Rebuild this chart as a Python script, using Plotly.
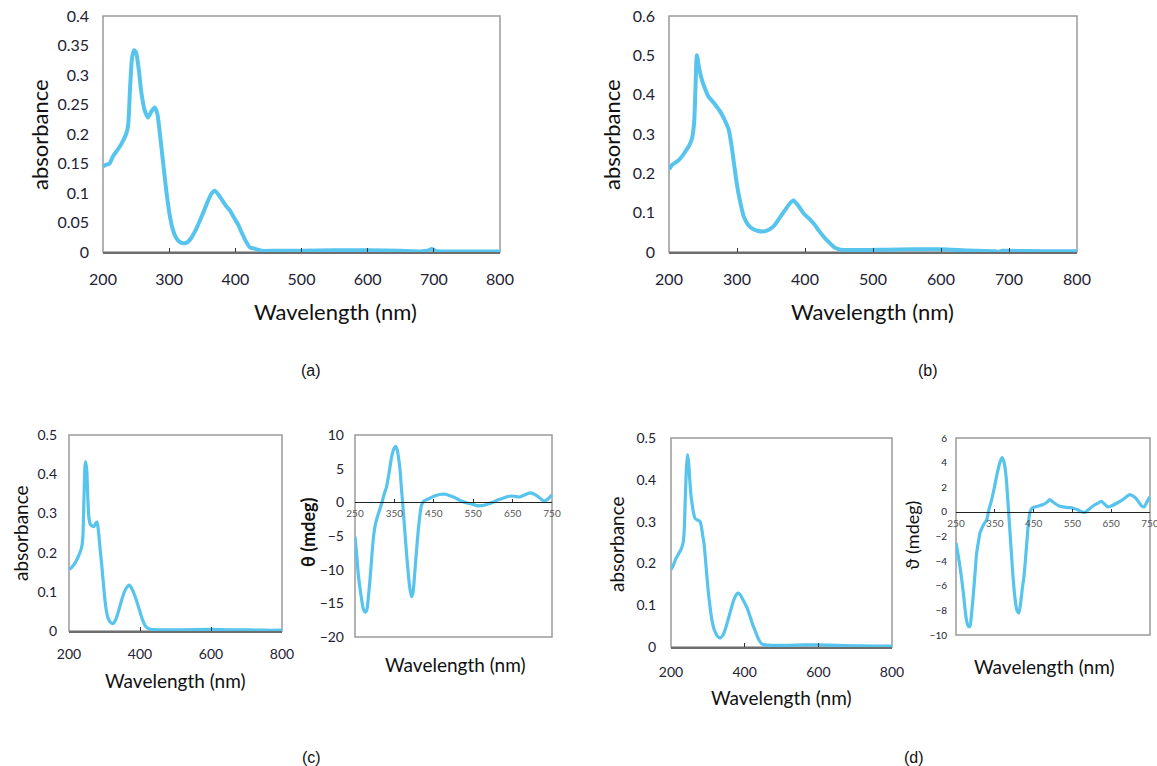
import plotly.graph_objects as go

# ---------------- data ----------------
wl_a = [200,205,210,215,220,225,230,235,238,241,244,247,250,254,258,263,268,273,278,282,286,290,295,300,305,310,316,322,328,334,340,346,352,358,364,369,374,380,386,392,398,404,410,416,422,428,434,440,460,500,550,600,650,680,690,697,703,720,760,800]
abs_a = [0.145,0.148,0.15,0.162,0.17,0.178,0.188,0.2,0.215,0.28,0.33,0.342,0.338,0.31,0.27,0.24,0.228,0.238,0.245,0.235,0.2,0.16,0.11,0.068,0.04,0.025,0.017,0.015,0.017,0.025,0.037,0.052,0.068,0.085,0.099,0.104,0.098,0.088,0.078,0.07,0.058,0.047,0.032,0.018,0.008,0.006,0.004,0.002,0.002,0.002,0.003,0.003,0.002,0.001,0.002,0.005,0.002,0.001,0.001,0.001]

wl_b = [200,205,210,215,220,225,230,234,237,239,241,244,248,253,258,264,270,276,282,288,292,296,300,305,310,316,322,330,338,346,354,362,370,377,383,390,398,406,414,420,426,432,438,445,452,470,520,560,600,640,680,684,690,700,750,800]
abs_b = [0.21,0.222,0.228,0.235,0.245,0.258,0.272,0.29,0.33,0.42,0.5,0.47,0.44,0.415,0.395,0.383,0.37,0.355,0.335,0.31,0.27,0.22,0.17,0.125,0.09,0.07,0.06,0.054,0.052,0.056,0.066,0.085,0.105,0.122,0.131,0.118,0.098,0.085,0.07,0.055,0.042,0.03,0.02,0.01,0.006,0.005,0.006,0.007,0.007,0.004,0.002,0.0,0.003,0.003,0.002,0.002]

wl_c = [200,205,210,216,222,230,236,239,242,245,247,250,253,256,260,265,270,275,279,283,287,292,296,300,305,310,317,324,332,340,348,356,364,370,376,382,390,398,404,410,416,422,430,460,520,600,650,700,750,800]
abs_c = [0.158,0.16,0.165,0.172,0.182,0.198,0.215,0.24,0.33,0.42,0.432,0.41,0.34,0.29,0.272,0.268,0.266,0.275,0.278,0.255,0.215,0.17,0.13,0.09,0.053,0.033,0.022,0.019,0.03,0.052,0.078,0.1,0.113,0.117,0.11,0.098,0.078,0.055,0.037,0.022,0.012,0.007,0.004,0.003,0.003,0.004,0.003,0.003,0.002,0.002]

wl_c_cd = [250,254,258,262,267,271,276,280,284,288,292,297,302,307,312,318,324,330,336,343,349,353,357,360,364,368,373,378,383,388,393,397,401,405,410,415,419,425,432,440,450,460,470,480,490,500,510,520,534,550,560,570,580,590,600,610,625,640,655,669,680,695,705,716,724,730,738,745,750]
cd_c = [-5.1,-7.6,-10.5,-12.5,-14.5,-15.8,-16.3,-16.0,-14,-11.5,-8.5,-5.1,-3.2,-2.1,-1.2,-0.1,1.2,2.3,4.2,6.8,8.0,8.3,7.8,6.8,5.0,2.0,-1.6,-5.5,-9.1,-12.2,-14.0,-13.5,-11.0,-8.0,-4.5,-1.8,-0.4,0.2,0.4,0.6,0.9,1.1,1.2,1.2,1.0,0.8,0.5,0.2,-0.1,-0.3,-0.5,-0.5,-0.4,-0.2,0.0,0.3,0.6,0.9,0.9,0.8,1.1,1.4,1.2,0.8,0.4,0.2,0.4,0.8,1.1]

wl_d = [200,206,212,220,228,233,236,239,242,245,248,251,254,257,261,265,269,274,279,283,287,290,295,299,304,311,318,326,334,342,350,358,366,374,381,388,396,406,414,422,428,434,440,446,454,480,520,560,600,650,700,750,800]
abs_d = [0.185,0.195,0.209,0.222,0.235,0.25,0.28,0.36,0.43,0.46,0.44,0.4,0.365,0.344,0.322,0.308,0.305,0.303,0.3,0.285,0.262,0.245,0.195,0.153,0.11,0.065,0.04,0.026,0.022,0.03,0.05,0.075,0.1,0.12,0.129,0.125,0.112,0.095,0.075,0.053,0.04,0.026,0.015,0.008,0.005,0.004,0.004,0.005,0.005,0.004,0.003,0.002,0.002]

wl_d_cd = [250,255,259,264,269,273,277,282,286,290,295,299,303,308,312,320,329,335,342,349,356,363,369,374,379,383,387,392,397,402,407,412,417,421,425,430,435,440,446,453,465,475,485,492,500,509,518,526,540,552,565,575,582,592,604,615,625,634,642,652,664,680,698,710,720,728,735,742,750]
cd_d = [-2.5,-3.4,-4.2,-5.3,-6.6,-7.8,-8.8,-9.3,-9.3,-8.3,-6.6,-5.0,-3.4,-2.4,-1.7,-1.1,-0.65,0.2,1.0,2.0,3.1,4.0,4.4,4.0,2.9,1.2,-0.65,-3.0,-5.3,-7.0,-8.0,-8.2,-7.3,-6.2,-5.3,-3.5,-1.5,-0.1,0.3,0.4,0.5,0.6,0.8,1.0,0.8,0.6,0.45,0.4,0.35,0.3,0.15,0.0,-0.05,0.2,0.5,0.7,0.85,0.6,0.4,0.5,0.7,1.0,1.4,1.2,0.85,0.5,0.4,0.8,1.25]

# ---------------- layout helpers ----------------
# the page's body margin is removed (post_script), so positions are window pixels
W, H = 1157, 766
LINE = "#57c4ee"
FRAME = "#9a9a9a"
BOTTOM = "#6e6e6e"
TICKC = "#222233"
TF = "Lato"


def dx(l, r):
    return [l / W, r / W]


def dy(t, b):
    return [1 - b / H, 1 - t / H]


fig = go.Figure()

panels = [
    (1, wl_a, abs_a, dx(103, 500), dy(16, 252), 4),
    (2, wl_b, abs_b, dx(669, 1077), dy(16, 252), 4),
    (3, wl_c, abs_c, dx(69, 282), dy(435, 631), 3.2),
    (4, wl_c_cd, cd_c, dx(355, 552), dy(435, 637), 3.2),
    (5, wl_d, abs_d, dx(671, 892), dy(438, 647), 3.2),
    (6, wl_d_cd, cd_d, dx(956, 1150), dy(438, 635), 3.2),
]

for idx, xs, ys, xd, yd, lw in panels:
    s = "" if idx == 1 else str(idx)
    fig.add_trace(go.Scatter(x=xs, y=ys, mode="lines",
                             line=dict(color=LINE, width=lw, shape="spline", smoothing=0.6),
                             xaxis="x" + s, yaxis="y" + s, showlegend=False, hoverinfo="skip"))

lay = dict(width=W, height=H, margin=dict(l=0, r=0, t=0, b=0, autoexpand=False),
           paper_bgcolor="white", plot_bgcolor="white", showlegend=False)

uv_specs = {
    1: dict(xdt=100, yr=[0, 0.4], ydt=0.05, fs=16, ystand=13, xstand=12),
    2: dict(xdt=100, yr=[0, 0.6], ydt=0.1, fs=16, ystand=13, xstand=12),
    3: dict(xdt=200, yr=[0, 0.5], ydt=0.1, fs=14, ystand=11, xstand=9),
    5: dict(xdt=200, yr=[0, 0.5], ydt=0.1, fs=14, ystand=14, xstand=11),
}
shapes = []
for idx, xs, ys, xd, yd, lw in panels:
    s = "" if idx == 1 else str(idx)
    if idx in uv_specs:
        sp = uv_specs[idx]
        lay["xaxis" + s] = dict(domain=xd, anchor="y" + s, range=[200, 800], dtick=sp["xdt"], tick0=200,
                                showline=True, mirror=False, linecolor=BOTTOM, linewidth=1.5, showgrid=False,
                                zeroline=False, ticks="inside", ticklen=4, tickcolor="#333", automargin=False,
                                ticklabelstandoff=sp["xstand"], ticklabeloverflow="allow",
                                tickfont=dict(family=TF, size=sp["fs"], color=TICKC))
        lay["yaxis" + s] = dict(domain=yd, anchor="x" + s, range=sp["yr"], dtick=sp["ydt"], tick0=0,
                                showline=False, showgrid=False, automargin=False,
                                zeroline=False, ticks="", ticklabelstandoff=sp["ystand"],
                                ticklabeloverflow="allow",
                                tickfont=dict(family=TF, size=sp["fs"], color=TICKC))
        shapes.append(dict(type="rect", xref="x" + s + " domain", yref="y" + s + " domain",
                           x0=0, x1=1, y0=0, y1=1, line=dict(color=FRAME, width=1.5), layer="below"))

cd_specs = {
    4: dict(yr=[-20, 10], ydt=5, yfs=14, xfs=10, ystand=10),
    6: dict(yr=[-10, 6], ydt=2, yfs=10, xfs=10, ystand=8),
}
for idx, xs, ys, xd, yd, lw in panels:
    if idx not in cd_specs:
        continue
    s = str(idx)
    sp = cd_specs[idx]
    y0, y1 = sp["yr"]
    pos0 = yd[0] + (0 - y0) / (y1 - y0) * (yd[1] - yd[0])
    lay["xaxis" + s] = dict(domain=xd, anchor="free", position=pos0, range=[250, 750], dtick=100, tick0=250,
                            showline=True, linecolor="#222", linewidth=1, showgrid=False, zeroline=False,
                            ticks="inside", ticklen=3, tickcolor="#333", ticklabelstandoff=2, automargin=False,
                            ticklabeloverflow="allow",
                            tickfont=dict(family=TF, size=sp["xfs"], color="#555"))
    lay["yaxis" + s] = dict(domain=yd, anchor="x" + s, range=sp["yr"], dtick=sp["ydt"], tick0=0,
                            showline=False, showgrid=False, automargin=False,
                            zeroline=False, ticks="", ticklabelstandoff=sp["ystand"],
                            ticklabeloverflow="allow",
                            tickfont=dict(family=TF, size=sp["yfs"], color=TICKC))
    shapes.append(dict(type="rect", xref="x" + s + " domain", yref="y" + s + " domain", x0=0, x1=1, y0=0, y1=1,
                       line=dict(color=FRAME, width=1.5), layer="below"))

lay["shapes"] = shapes


def ann(x, y, text, size, angle=0, family=TF, color="#111"):
    return dict(x=x / W, y=1 - y / H, xref="paper", yref="paper", text=text, showarrow=False,
                textangle=angle, font=dict(family=family, size=size, color=color),
                xanchor="center", yanchor="middle")


anns = [
    ann(335, 311, "Wavelength (nm)", 22),
    ann(40, 135, "absorbance", 22, -90),
    ann(872, 311, "Wavelength (nm)", 22),
    ann(612, 135, "absorbance", 22, -90),
    ann(176, 680, "Wavelength (nm)", 19),
    ann(20, 533, "absorbance", 19, -90),
    ann(455, 664, "Wavelength (nm)", 19),
    ann(308, 532, "<b>θ (mdeg)</b>", 18, -90),
    ann(781, 697, "Wavelength (nm)", 19),
    ann(616, 544, "absorbance", 19, -90),
    ann(1044, 666, "Wavelength (nm)", 19),
    ann(912, 536, "ϑ (mdeg)", 18, -90),
    ann(311, 370, "(a)", 16, family="Liberation Sans"),
    ann(928, 370, "(b)", 16, family="Liberation Sans"),
    ann(311, 757, "(c)", 16, family="Liberation Sans"),
    ann(914, 757, "(d)", 16, family="Liberation Sans"),
]
lay["annotations"] = anns

fig.update_layout(**lay)
fig.write_html("out.html", config={"displayModeBar": False},
               post_script="document.body.style.margin='0';")
